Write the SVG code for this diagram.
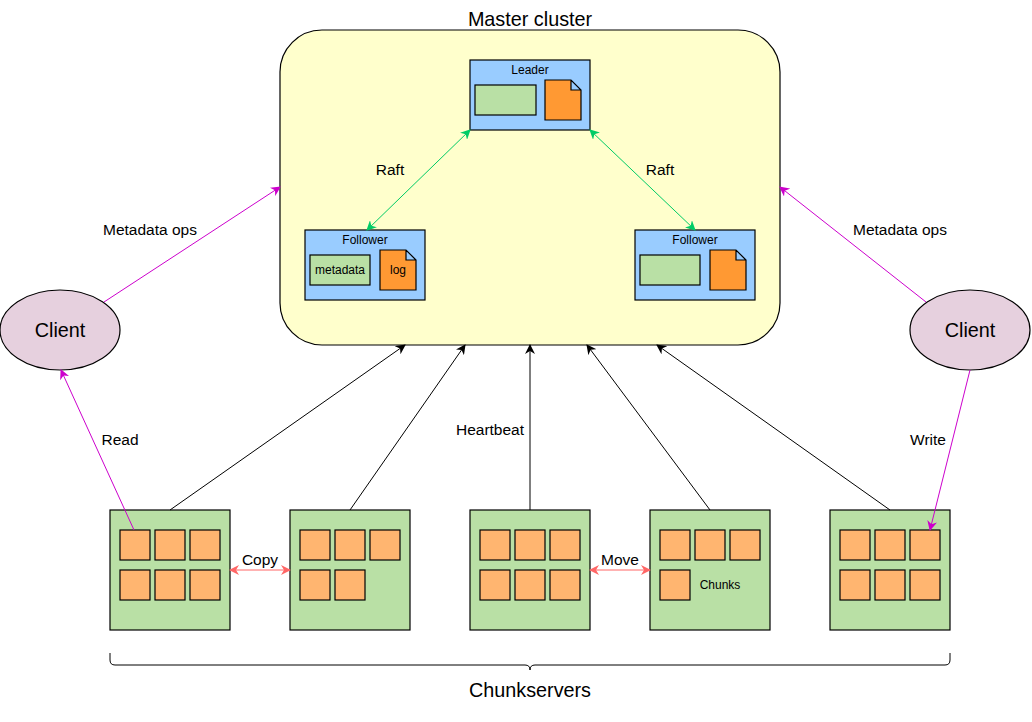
<svg xmlns="http://www.w3.org/2000/svg" width="1032" height="722" viewBox="0 0 1032 722">
<style>
text{font-family:"Liberation Sans",Arial,sans-serif;fill:#000}
.t14{font-size:15.5px}
.t11{font-size:12px}
.t18{font-size:19.8px}
.node{fill:#99CCFF;stroke:#000;stroke-width:1.2}
.meta{fill:#B9E0A5;stroke:#000;stroke-width:1.2}
.doc{fill:#FF9933;stroke:#000;stroke-width:1.2}
.srv{fill:#B9E0A5;stroke:#000;stroke-width:1.2}
.chunk{fill:#FFB570;stroke:#000;stroke-width:1.2}
.client{fill:#E6D0DE;stroke:#000;stroke-width:1.2}
.hb{stroke:#000;stroke-width:1;fill:none}
.raft{stroke:#00CC66;stroke-width:1;fill:none}
.mg{stroke:#CC00CC;stroke-width:1;fill:none}
.cp{stroke:#FF6666;stroke-width:1;fill:none}
</style>
<defs>
<marker id="aBlk" viewBox="0 0 10 10" refX="9" refY="5" markerWidth="10" markerHeight="10" markerUnits="userSpaceOnUse" orient="auto-start-reverse"><path d="M0,0 L10,5 L0,10 L3,5 Z" fill="#000"/></marker>
<marker id="aGrn" viewBox="0 0 10 10" refX="9" refY="5" markerWidth="10" markerHeight="10" markerUnits="userSpaceOnUse" orient="auto-start-reverse"><path d="M0,0 L10,5 L0,10 L3,5 Z" fill="#00CC66"/></marker>
<marker id="aMg" viewBox="0 0 10 10" refX="9" refY="5" markerWidth="10" markerHeight="10" markerUnits="userSpaceOnUse" orient="auto-start-reverse"><path d="M0,0 L10,5 L0,10 L3,5 Z" fill="#CC00CC"/></marker>
<marker id="aRed" viewBox="0 0 10 10" refX="9" refY="5" markerWidth="10" markerHeight="10" markerUnits="userSpaceOnUse" orient="auto-start-reverse"><path d="M0,0 L10,5 L0,10 L3,5 Z" fill="#FF6666"/></marker>
</defs>
<rect width="1032" height="722" fill="#fff"/>

<g id="master">
<rect x="280" y="30" width="500" height="315" rx="42" fill="#FFFFCC" stroke="#000" stroke-width="1.2"/>
<text x="530" y="26" text-anchor="middle" class="t18">Master cluster</text>
</g>

<g id="leader">
<rect class="node" x="470" y="60" width="120" height="70"/>
<text x="530" y="74" text-anchor="middle" class="t11">Leader</text>
<rect class="meta" x="475" y="85" width="61" height="30"/>
<path class="doc" d="M545,80 H571 L581,90 V120 H545 Z M571,80 V90 H581"/>
</g>

<g id="follower-left">
<rect class="node" x="305" y="230" width="120" height="70"/>
<text x="365" y="244" text-anchor="middle" class="t11">Follower</text>
<rect class="meta" x="310" y="255" width="60" height="30"/>
<text x="340" y="274" text-anchor="middle" class="t11">metadata</text>
<path class="doc" d="M380,250 H406 L416,260 V290 H380 Z M406,250 V260 H416"/>
<text x="398" y="274" text-anchor="middle" class="t11">log</text>
</g>

<g id="follower-right">
<rect class="node" x="635" y="230" width="120" height="70"/>
<text x="695" y="244" text-anchor="middle" class="t11">Follower</text>
<rect class="meta" x="640" y="255" width="60" height="30"/>
<path class="doc" d="M710,250 H736 L746,260 V290 H710 Z M736,250 V260 H746"/>
</g>

<g id="client-left">
<ellipse class="client" cx="60" cy="330" rx="60" ry="40"/>
<text x="60" y="337" text-anchor="middle" class="t18">Client</text>
</g>
<g id="client-right">
<ellipse class="client" cx="970" cy="330" rx="60" ry="40"/>
<text x="970" y="337" text-anchor="middle" class="t18">Client</text>
</g>

<g id="cs1">
<rect class="srv" x="110" y="510" width="120" height="120"/>
<rect class="chunk" x="120" y="530" width="30" height="30"/><rect class="chunk" x="155" y="530" width="30" height="30"/><rect class="chunk" x="190" y="530" width="30" height="30"/>
<rect class="chunk" x="120" y="570" width="30" height="30"/><rect class="chunk" x="155" y="570" width="30" height="30"/><rect class="chunk" x="190" y="570" width="30" height="30"/>
</g>
<g id="cs2">
<rect class="srv" x="290" y="510" width="120" height="120"/>
<rect class="chunk" x="300" y="530" width="30" height="30"/><rect class="chunk" x="335" y="530" width="30" height="30"/><rect class="chunk" x="370" y="530" width="30" height="30"/>
<rect class="chunk" x="300" y="570" width="30" height="30"/><rect class="chunk" x="335" y="570" width="30" height="30"/>
</g>
<g id="cs3">
<rect class="srv" x="470" y="510" width="120" height="120"/>
<rect class="chunk" x="480" y="530" width="30" height="30"/><rect class="chunk" x="515" y="530" width="30" height="30"/><rect class="chunk" x="550" y="530" width="30" height="30"/>
<rect class="chunk" x="480" y="570" width="30" height="30"/><rect class="chunk" x="515" y="570" width="30" height="30"/><rect class="chunk" x="550" y="570" width="30" height="30"/>
</g>
<g id="cs4">
<rect class="srv" x="650" y="510" width="120" height="120"/>
<rect class="chunk" x="660" y="530" width="30" height="30"/><rect class="chunk" x="695" y="530" width="30" height="30"/><rect class="chunk" x="730" y="530" width="30" height="30"/>
<rect class="chunk" x="660" y="570" width="30" height="30"/>
<text x="720" y="589" text-anchor="middle" class="t11">Chunks</text>
</g>
<g id="cs5">
<rect class="srv" x="830" y="510" width="120" height="120"/>
<rect class="chunk" x="840" y="530" width="30" height="30"/><rect class="chunk" x="875" y="530" width="30" height="30"/><rect class="chunk" x="910" y="530" width="30" height="30"/>
<rect class="chunk" x="840" y="570" width="30" height="30"/><rect class="chunk" x="875" y="570" width="30" height="30"/><rect class="chunk" x="910" y="570" width="30" height="30"/>
</g>

<g id="brace">
<path d="M110,653 V660 Q110,665 115,665 H525 Q530,665 530,670 Q530,665 535,665 H945 Q950,665 950,660 V653" fill="none" stroke="#000" stroke-width="1"/>
<text x="530" y="697" text-anchor="middle" class="t18">Chunkservers</text>
</g>

<g id="connectors">
<line class="raft" x1="470" y1="130" x2="367" y2="230" marker-start="url(#aGrn)" marker-end="url(#aGrn)"/>
<line class="raft" x1="590" y1="130" x2="695" y2="230" marker-start="url(#aGrn)" marker-end="url(#aGrn)"/>
<line class="mg" x1="104" y1="302" x2="280" y2="187" marker-end="url(#aMg)"/>
<line class="mg" x1="926" y1="302" x2="780" y2="187" marker-end="url(#aMg)"/>
<line class="mg" x1="134" y1="530" x2="61" y2="370" marker-end="url(#aMg)"/>
<line class="mg" x1="970" y1="370" x2="930" y2="530" marker-end="url(#aMg)"/>
<line class="hb" x1="170" y1="510" x2="405" y2="345" marker-end="url(#aBlk)"/>
<line class="hb" x1="350" y1="510" x2="465" y2="345" marker-end="url(#aBlk)"/>
<line class="hb" x1="530" y1="510" x2="530" y2="345" marker-end="url(#aBlk)"/>
<line class="hb" x1="710" y1="510" x2="587" y2="345" marker-end="url(#aBlk)"/>
<line class="hb" x1="890" y1="510" x2="657" y2="345" marker-end="url(#aBlk)"/>
<line class="cp" x1="230" y1="570" x2="290" y2="570" marker-start="url(#aRed)" marker-end="url(#aRed)"/>
<line class="cp" x1="590" y1="570" x2="650" y2="570" marker-start="url(#aRed)" marker-end="url(#aRed)"/>
<text x="390" y="175" text-anchor="middle" class="t14">Raft</text>
<text x="660" y="175" text-anchor="middle" class="t14">Raft</text>
<text x="150" y="235" text-anchor="middle" class="t14">Metadata ops</text>
<text x="900" y="235" text-anchor="middle" class="t14">Metadata ops</text>
<text x="120" y="445" text-anchor="middle" class="t14">Read</text>
<text x="928" y="445" text-anchor="middle" class="t14">Write</text>
<text x="490" y="435" text-anchor="middle" class="t14">Heartbeat</text>
<text x="260" y="565" text-anchor="middle" class="t14">Copy</text>
<text x="620" y="565" text-anchor="middle" class="t14">Move</text>
</g>
</svg>
